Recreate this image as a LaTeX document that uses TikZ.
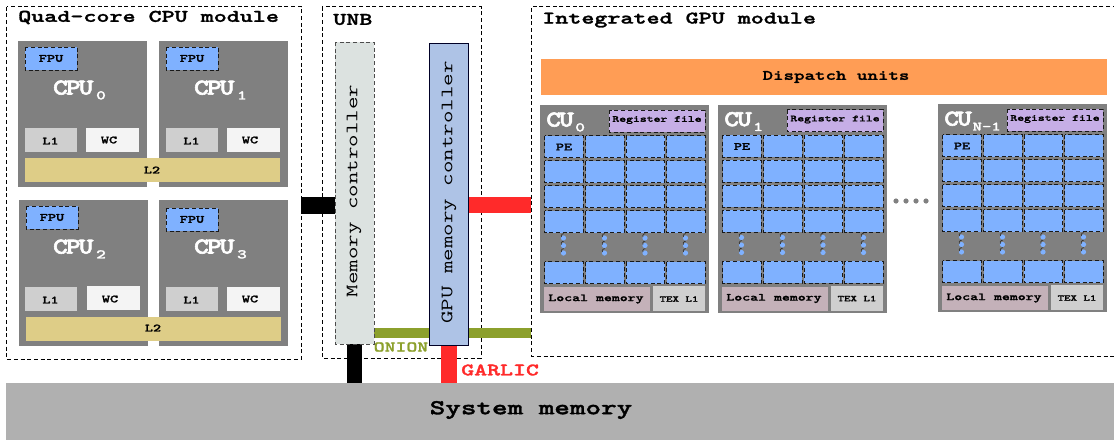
\documentclass[tikz,border=0pt]{standalone}
\usepackage{fontspec}
\newfontfamily\cmono[FakeStretch=1.4,BoldFont={Latin Modern Mono Light/B},BoldFeatures={FakeBold=1.6}]{Latin Modern Mono}
\newfontfamily\cbig[FakeStretch=1.25,BoldFont={Latin Modern Mono Light/B},BoldFeatures={FakeBold=2.6}]{Latin Modern Mono}
\definecolor{cpugray}{HTML}{808080}
\definecolor{peblue}{HTML}{7FB1FF}
\definecolor{ltwo}{HTML}{DECD87}
\definecolor{lone}{HTML}{CFCFCF}
\definecolor{wcw}{HTML}{F4F4F4}
\definecolor{regp}{HTML}{C6AEE6}
\definecolor{locm}{HTML}{C4B1B9}
\definecolor{dispo}{HTML}{FF9D55}
\definecolor{memc}{HTML}{DCE2E0}
\definecolor{gpum}{HTML}{AEC3E6}
\definecolor{sysm}{HTML}{B0B0B0}
\definecolor{onionc}{HTML}{8CA02C}
\definecolor{garlicc}{HTML}{FF2A2A}
\newcommand{\fsz}[1]{\fontsize{#1}{#1}\selectfont}
\newcommand{\subtxt}[2]{\raisebox{-0.5ex}{\cmono\bfseries\fsz{#1}#2}}
\tikzset{x=0.75pt,y=-0.75pt,
 dashbox/.style={draw=black!90,line width=0.6pt,dash pattern=on 3pt off 2pt},
 moddash/.style={draw=black,line width=0.5pt,dash pattern=on 3pt off 2pt},
 lbl/.style={inner sep=0,font=\cmono\bfseries\fsz{8.3},text=black},
 bigw/.style={inner sep=0,font=\cbig\bfseries\fsz{17},text=white},
 title/.style={inner sep=0,font=\cmono\bfseries\fsz{13.3},anchor=west},
 vert/.style={inner sep=0,rotate=90,font=\cmono\fsz{13}}}
\newcommand{\cpu}[5]{%
 \begin{scope}[shift={(#1,#2)}]
 \fill[cpugray] (18+#5,41) rectangle (147+#5,187);
 \fill[peblue] (25+#5,47+#4) rectangle (77+#5,70+#4);
 \draw[dashbox] (25+#5,47+#4) rectangle (77+#5,70+#4);
 \node[lbl] (fpu#3) at (51+#5,58.5+#4) {FPU};
 \node[bigw] (cpu#3) at (79.5,90) {C\kern-1.6pt P\kern-1.6pt U\kern2pt\subtxt{10}{#3}};
 \fill[lone] (25,128) rectangle (77,152);
 \node[lbl] (lo#3) at (50.5,141) {L1};
 \fill[wcw] (86+#5,128-#5) rectangle (139+#5,152-#5);
 \node[lbl] (wc#3) at (109+#5,140) {WC};
 \end{scope}}
\newcommand{\cu}[4]{%
 \begin{scope}[shift={(#1,#2)}]
 \fill[cpugray] (540,105) rectangle (709,313);
 \fill[regp] (609,110) rectangle (705,132);
 \draw[dashbox] (609,110) rectangle (705,132);
 \foreach \xa in {544.5,585.5,626,666.5}{
  \foreach \ya in {135.5,160.5,185.5,210.5,261.5}{
   \fill[peblue] (\xa,\ya) rectangle (\xa+38.5,\ya+22);
   \draw[dashbox] (\xa,\ya) rectangle (\xa+38.5,\ya+22);
  }
  \foreach \ya in {238,245.5,253}{
   \fill[peblue] (\xa+19,\ya) circle[radius=2.6];
   \draw[black!80,line width=0.5pt] (\xa+17,\ya-1) arc[start angle=150,end angle=280,radius=2.2];
  }
 }
 \node[lbl] (pe#4) at (564,147) {PE};
 \node[inner sep=0,anchor=west,font=\cbig\bfseries\fsz{17},text=white] (cu#4) at (546,122) {#3};
 \node[inner sep=0,font=\cmono\bfseries\fsz{7}] (rf#4) at (657,120) {Register file};
 \fill[locm] (544,287) rectangle (650,311);
 \node[lbl,font=\cmono\bfseries\fsz{8.1}] (lm#4) at (596,299) {Local memory};
 \fill[lone] (653,286) rectangle (705,311);
 \node[inner sep=0,font=\cmono\bfseries\fsz{6.6}] (tx#4) at (679,299) {TEX L1};
 \end{scope}}
\begin{document}
\begin{tikzpicture}
\useasboundingbox (0,0) rectangle (1114,440);
\clip (0,0) rectangle (1114,440);
\draw[moddash] (6.5,6.5) rectangle (301.5,359);
\node[title] (t1) at (18,17.5) {Quad-core CPU module};
\draw[moddash] (322,6.5) rectangle (481,358);
\node[title] (t2) at (333,19.5) {UNB};
\draw[moddash] (1130,6.5) -- (531.5,6.5) -- (531.5,356) -- (1130,356);
\node[title] (t3) at (542,20) {Integrated GPU module};
\cpu{0}{0}{0}{0}{0}
\cpu{141}{0}{1}{0}{0}
\cpu{0}{159}{2}{0}{1}
\cpu{141}{159}{3}{2}{0}
\fill[ltwo] (25,158) rectangle (280,182);
\node[lbl] (ltwoa) at (152,170) {L2};
\fill[ltwo] (26,317) rectangle (281,341);
\node[lbl] (ltwob) at (153,328) {L2};
\fill[black] (301,197) rectangle (335,214);
\fill[garlicc] (468,197) rectangle (531,213);
\fill[onionc] (374,328) rectangle (531,338);
\fill[black] (347,344) rectangle (362,383);
\fill[garlicc] (441,345) rectangle (457,383);
\fill[memc] (335,42) rectangle (374,344);
\draw[moddash,black!70] (335,42) rectangle (374,344);
\node[vert] (mc) at (354,191) {Memory controller};
\fill[gpum] (429.5,43) rectangle (468,345);
\draw[line width=0.6pt,black!85!blue] (429.5,43) rectangle (468,345);
\node[vert] (gc) at (449,192.5) {GPU memory controller};
\node[inner sep=0,font=\cmono\bfseries\fsz{11.1},text=onionc] (on) at (401,347) {ONION};
\node[inner sep=0,anchor=west,font=\cmono\bfseries\fsz{13.2},text=garlicc] (ga) at (461,370) {GARLIC};
\fill[sysm] (6,383) rectangle (1114,440);
\node[inner sep=0,font=\cmono\bfseries\fsz{15.9}] (sm) at (531,410) {System memory};
\fill[dispo] (541,59) rectangle (1107,95);
\node[lbl,font=\cmono\bfseries\fsz{10.7}] (du) at (836,77) {Dispatch units};
\cu{0}{0}{C\kern-1.6pt U\kern1pt\subtxt{10}{0}}{a}
\cu{178}{-0.5}{C\kern-1.6pt U\kern1pt\subtxt{10}{1}}{b}
\cu{398}{-1}{C\kern-1.6pt U\kern0.5pt\subtxt{9.6}{N-1}}{c}
\foreach \xa in {896,906,916,926}{\fill[black!50] (\xa,201) circle[radius=2.6];}
\end{tikzpicture}
\end{document}
